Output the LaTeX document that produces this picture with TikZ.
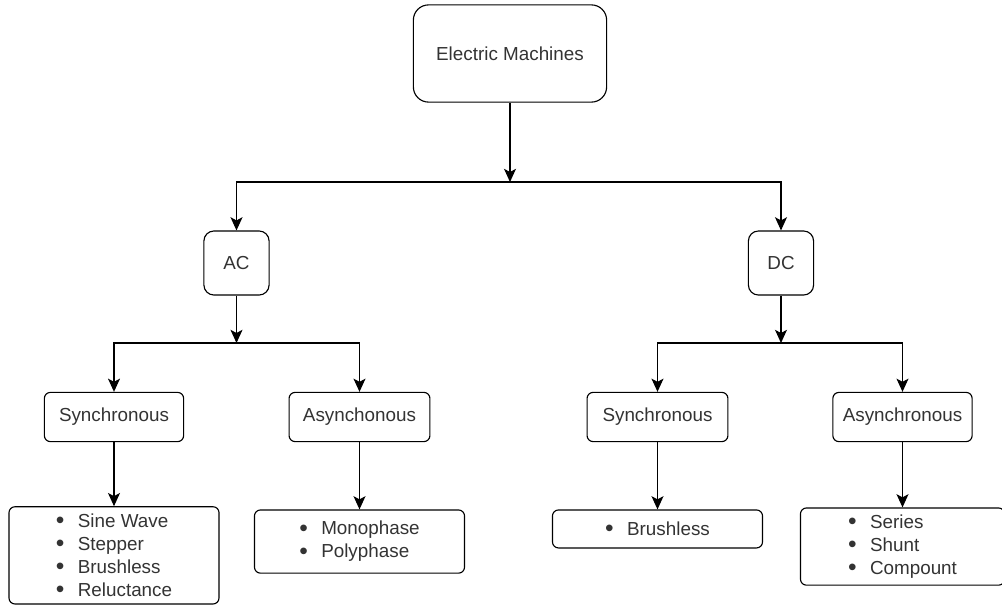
\documentclass[tikz,border=0pt]{standalone}
\usepackage{fontspec}
\setmainfont{Liberation Sans}
\usepackage{tikz}
\usetikzlibrary{arrows.meta, positioning}
\definecolor{textogris}{RGB}{51, 51, 51}
\newcommand{\itm}[1]{\makebox[0.55cm][l]{\raisebox{-0.06em}{\scalebox{1.3}{\textbullet}}}#1}

\begin{document}
\begin{tikzpicture}[
    x=0.025cm, y=-0.025cm,
    caja/.style={rectangle, rounded corners=0.15cm, draw=black, line width=0.8pt, align=center, text=textogris, font=\fontsize{13.4}{16.4}\selectfont, inner sep=0pt},
    lista/.style={caja, align=left, minimum width=5.25cm},
    flecha/.style={-{Stealth[length=3.3mm, width=3mm, inset=0.8mm]}, line width=0.8pt}
]
\useasboundingbox (0,0) rectangle (1002,605);

\node[caja, rounded corners=0.38cm, minimum width=4.83cm, minimum height=2.43cm] (maq) at (510,53.5) {Electric Machines};

\node[caja, rounded corners=0.25cm, minimum width=1.63cm, minimum height=1.6cm] (ac) at (236.5,263) {AC};
\node[caja, rounded corners=0.25cm, minimum width=1.63cm, minimum height=1.6cm] (dc) at (781,263) {DC};

\node[caja, minimum width=3.48cm, minimum height=1.23cm] (acsin) at (114,417) {Synchronous};
\node[caja, minimum width=3.52cm, minimum height=1.23cm] (acasin) at (359.5,417) {Asynchonous};
\node[caja, minimum width=3.52cm, minimum height=1.23cm] (dcsin) at (657.5,417) {Synchronous};
\node[caja, minimum width=3.48cm, minimum height=1.23cm] (dcasin) at (902.5,417) {Asynchronous};

\node[lista, below=1.6cm of acsin, minimum height=2.43cm] (acsinl) {\itm{Sine Wave}\\\itm{Stepper}\\\itm{Brushless}\\\itm{Reluctance}};
\node[lista, below=1.68cm of acasin, minimum height=1.58cm] (acasinl) {\itm{Monophase}\\\itm{Polyphase}};
\node[lista, below=1.68cm of dcsin, minimum height=0.95cm] (dcsinl) {\itm{Brushless}};
\node[lista, below=1.63cm of dcasin, minimum width=5.1cm, minimum height=1.93cm] (dcasinl) {\itm{Series}\\\itm{Shunt}\\\itm{Compount}};

% ramas
\coordinate (j1) at (maq.south |- 0,182);
\coordinate (j2) at (ac.south |- 0,343);
\coordinate (j3) at (dc.south |- 0,343);

\draw[flecha] (maq) -- (j1);
\draw[flecha] (j1) -| (ac);
\draw[flecha] (j1) -| (dc);

\draw[flecha] (ac) -- (j2);
\draw[flecha] (j2) -| (acsin);
\draw[flecha] (j2) -| (acasin);

\draw[flecha] (dc) -- (j3);
\draw[flecha] (j3) -| (dcsin);
\draw[flecha] (j3) -| (dcasin);

\draw[flecha] (acsin) -- (acsinl);
\draw[flecha] (acasin) -- (acasinl);
\draw[flecha] (dcsin) -- (dcsinl);
\draw[flecha] (dcasin) -- (dcasinl);
\end{tikzpicture}
\end{document}
